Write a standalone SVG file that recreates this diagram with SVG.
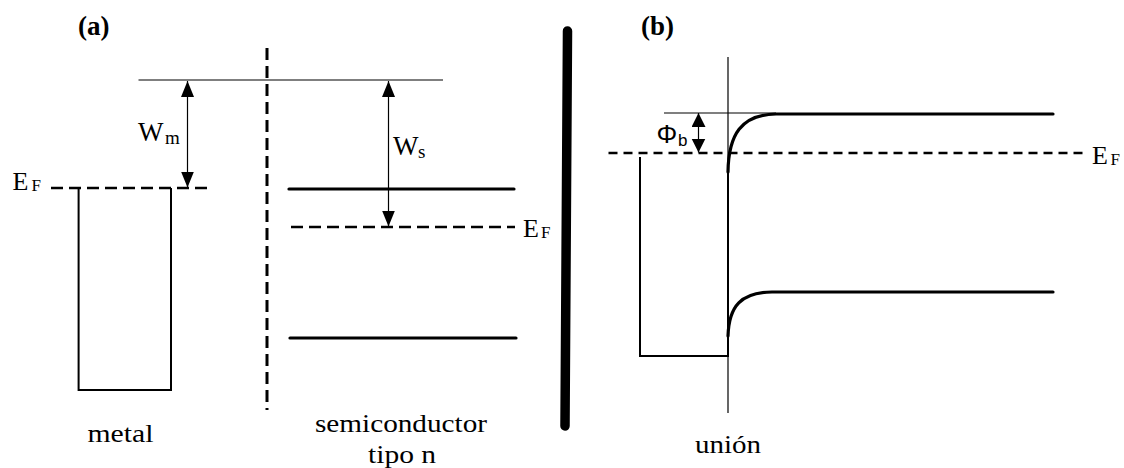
<svg xmlns="http://www.w3.org/2000/svg" width="1124" height="468" viewBox="0 0 1124 468">
  <defs>
    <marker id="ah" markerUnits="userSpaceOnUse" markerWidth="16" markerHeight="14" refX="16" refY="6.5" orient="auto-start-reverse">
      <path d="M0,0 L16,6.5 L0,13 z" fill="#000"/>
    </marker>
    <marker id="ahs" markerUnits="userSpaceOnUse" markerWidth="14" markerHeight="15" refX="14" refY="7" orient="auto-start-reverse">
      <path d="M0,0 L14,7 L0,14 z" fill="#000"/>
    </marker>
  </defs>
  <style>
    .thin { stroke:#000; stroke-width:1.2; fill:none; }
    .thick { stroke:#000; stroke-width:3.2; fill:none; stroke-linecap:round; }
    .box { stroke:#000; stroke-width:2; fill:none; }
    .dashA { stroke:#000; stroke-width:2.6; fill:none; stroke-dasharray:12 6; }
    .dashB { stroke:#000; stroke-width:2.6; fill:none; stroke-dasharray:9 6; }
    .arrow { stroke:#000; stroke-width:1.2; fill:none; }
  </style>
  <rect width="1124" height="468" fill="#fff"/>

  <g font-family="'Liberation Serif', 'DejaVu Serif', serif" fill="#000">
  <!-- panel (a) -->
  <g id="panel-a">
    <text x="78" y="35" font-size="27" font-weight="bold">(a)</text>
    <g id="vacuum-a">
      <line class="thin" x1="138.5" y1="80" x2="443" y2="80"/>
    </g>
    <g id="interface-a">
      <line x1="267" y1="48" x2="267" y2="410" stroke="#000" stroke-width="3" stroke-dasharray="12 6"/>
    </g>
    <g id="metal">
      <line class="dashA" x1="51" y1="188" x2="208" y2="188"/>
      <path class="box" d="M78.6,188 V390 H171 V188"/>
      <text x="12.5" y="189.5" font-size="26">E</text>
      <text x="31.5" y="190.5" font-size="17">F</text>
      <text x="87.5" y="442" font-size="25" textLength="66" lengthAdjust="spacingAndGlyphs">metal</text>
    </g>
    <g id="semiconductor">
      <line class="thick" x1="289" y1="189" x2="514" y2="189"/>
      <line class="dashA" x1="291" y1="227" x2="515" y2="227"/>
      <line class="thick" x1="290" y1="338" x2="516" y2="338"/>
      <text x="523" y="237" font-size="26">E</text>
      <text x="541" y="238" font-size="17">F</text>
      <text x="315" y="432" font-size="25" textLength="172" lengthAdjust="spacingAndGlyphs">semiconductor</text>
      <text x="368" y="463" font-size="25" textLength="68" lengthAdjust="spacingAndGlyphs">tipo n</text>
    </g>
  </g>

  <!-- separator -->
  <g id="separator">
    <line x1="567.5" y1="31" x2="565" y2="426" stroke="#000" stroke-width="9.5" stroke-linecap="round"/>
  </g>

  <!-- panel (b) -->
  <g id="panel-b">
    <text x="641" y="35" font-size="27" font-weight="bold">(b)</text>
    <g id="junction">
      <line class="thin" x1="728" y1="57" x2="728" y2="413"/>
      <text x="695" y="453" font-size="25" textLength="66" lengthAdjust="spacingAndGlyphs">unión</text>
    </g>
    <g id="barrier-top">
      <line class="thin" x1="664" y1="113" x2="776" y2="113"/>
    </g>
    <g id="fermi-b">
      <line class="dashB" x1="608.5" y1="153" x2="1085" y2="153"/>
      <text x="1092" y="164" font-size="26">E</text>
      <text x="1110.5" y="165" font-size="17">F</text>
    </g>
    <g id="metal-b">
      <path class="box" d="M640,157 V356 H728 V168"/>
    </g>
    <g id="bands-b">
      <path class="thick" d="M728,172 C728.5,135 741,114.5 776,114 H1053"/>
      <path class="thick" d="M728,336 C729,306 741,292.5 772,292 H1053"/>
    </g>
    <text x="656.5" y="143" font-size="26" font-family="'Liberation Sans', 'DejaVu Sans', sans-serif">Φ</text>
    <text x="678" y="145.5" font-size="17" font-family="'Liberation Sans', 'DejaVu Sans', sans-serif">b</text>
  </g>

  <!-- connectors -->
  <g id="connectors">
    <text x="138" y="141" font-size="27">W</text>
    <text x="165" y="144" font-size="19">m</text>
    <line class="arrow" x1="187.5" y1="81" x2="187.5" y2="187.5" marker-start="url(#ah)" marker-end="url(#ah)"/>
    <text x="393" y="155" font-size="27">W</text>
    <text x="418" y="158" font-size="19">s</text>
    <line class="arrow" x1="388.5" y1="81" x2="388.5" y2="226.5" marker-start="url(#ah)" marker-end="url(#ah)"/>
    <line class="arrow" x1="698.5" y1="113" x2="698.5" y2="152.5" marker-start="url(#ahs)" marker-end="url(#ahs)"/>
  </g>
  </g>
</svg>
